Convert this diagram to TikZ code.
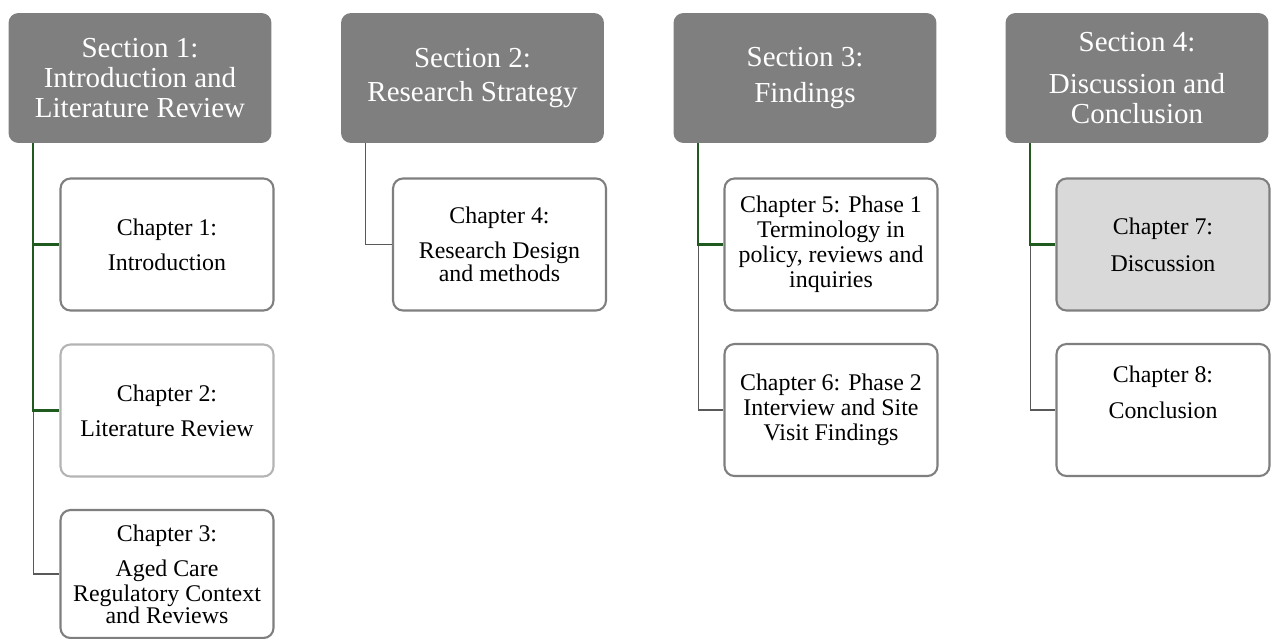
\documentclass[tikz,border=0pt]{standalone}
\usepackage{fontspec}
\setmainfont{Liberation Serif}
\begin{document}
\begin{tikzpicture}[x=0.02cm,y=-0.02cm,
  sectionbox/.style={draw=none,fill=secgray,rounded corners=0.2cm,
    text=white,align=center,inner sep=0pt,
    minimum width=5.26cm,minimum height=2.6cm,
    font=\fontsize{16.5pt}{17pt}\selectfont},
  chapbox/.style={draw=boxgray,line width=1.2pt,fill=white,rounded corners=0.2cm,
    align=center,inner sep=0pt,
    minimum width=4.26cm,minimum height=2.64cm,
    font=\fontsize{13.6pt}{13.6pt}\selectfont},
  mainlink/.style={draw=linkgreen,line width=1.5pt},
  sidelink/.style={draw=linkgray,line width=0.6pt}]
\definecolor{secgray}{HTML}{7F7F7F}
\definecolor{boxgray}{HTML}{7F7F7F}
\definecolor{lightborder}{HTML}{B4B4B4}
\definecolor{activefill}{HTML}{D9D9D9}
\definecolor{linkgreen}{HTML}{1F5A1F}
\definecolor{linkgray}{HTML}{595959}
\useasboundingbox (0,0) rectangle (1275,639);

% section headers
\node[sectionbox] (s1) at (140,78) {Section 1:\\Introduction and\\Literature Review};
\node[sectionbox] (s2) at (472.5,78) {Section 2:\\[2.8pt]Research Strategy};
\node[sectionbox] (s3) at (805,78) {Section 3:\\[4pt]Findings};
\node[sectionbox] (s4) at (1137,78) {Section 4:\\[6.8pt]Discussion and\\Conclusion};

% chapters of section 1
\node[chapbox] (c1) at (167,244.5) {Chapter 1:\\[6.2pt]Introduction};
\node[chapbox,draw=lightborder] (c2) at (167,410.5) {Chapter 2:\\[6.2pt]Literature Review};
\node[chapbox,minimum height=2.56cm] (c3) at (167,574) {Chapter 3:\\[6.2pt]Aged Care\\[0.6pt]Regulatory Context\\[-1.1pt]and Reviews};

% chapter of section 2
\node[chapbox] (c4) at (499.5,244.5) {Chapter 4:\\[6.2pt]Research Design\\[-0.6pt]and methods};

% chapters of section 3
\node[chapbox] (c5) at (831,244.5) {Chapter 5: Phase 1\\[0.8pt]Terminology in\\[0.6pt]policy, reviews and\\[0.6pt]inquiries};
\node[chapbox] (c6) at (831,410) {Chapter 6: Phase 2\\[0.6pt]Interview and Site\\[0.6pt]Visit Findings};

% chapters of section 4
\node[chapbox,fill=activefill] (c7) at (1163,244.5) {Chapter 7:\\[7.4pt]Discussion};
\node[chapbox] (c8) at (1163,410) {Chapter 8:\\[6.8pt]Conclusion\\[6.8pt]\mbox{}};

% thin connectors
\draw[sidelink] ([xshift=0.5cm]s1.south west) |- (c3.west);
\draw[sidelink] ([xshift=0.5cm]s2.south west) |- (c4.west);
\draw[sidelink] ([xshift=0.5cm]s3.south west) |- (c6.west);
\draw[sidelink] ([xshift=0.5cm]s4.south west) |- (c8.west);

% highlighted connectors
\draw[mainlink] ([xshift=0.5cm]s1.south west) |- (c2.west);
\draw[mainlink] ([xshift=0.5cm]s1.south west) |- (c1.west);
\draw[mainlink] ([xshift=0.5cm]s3.south west) |- (c5.west);
\draw[mainlink] ([xshift=0.5cm]s4.south west) |- (c7.west);
\end{tikzpicture}
\end{document}
